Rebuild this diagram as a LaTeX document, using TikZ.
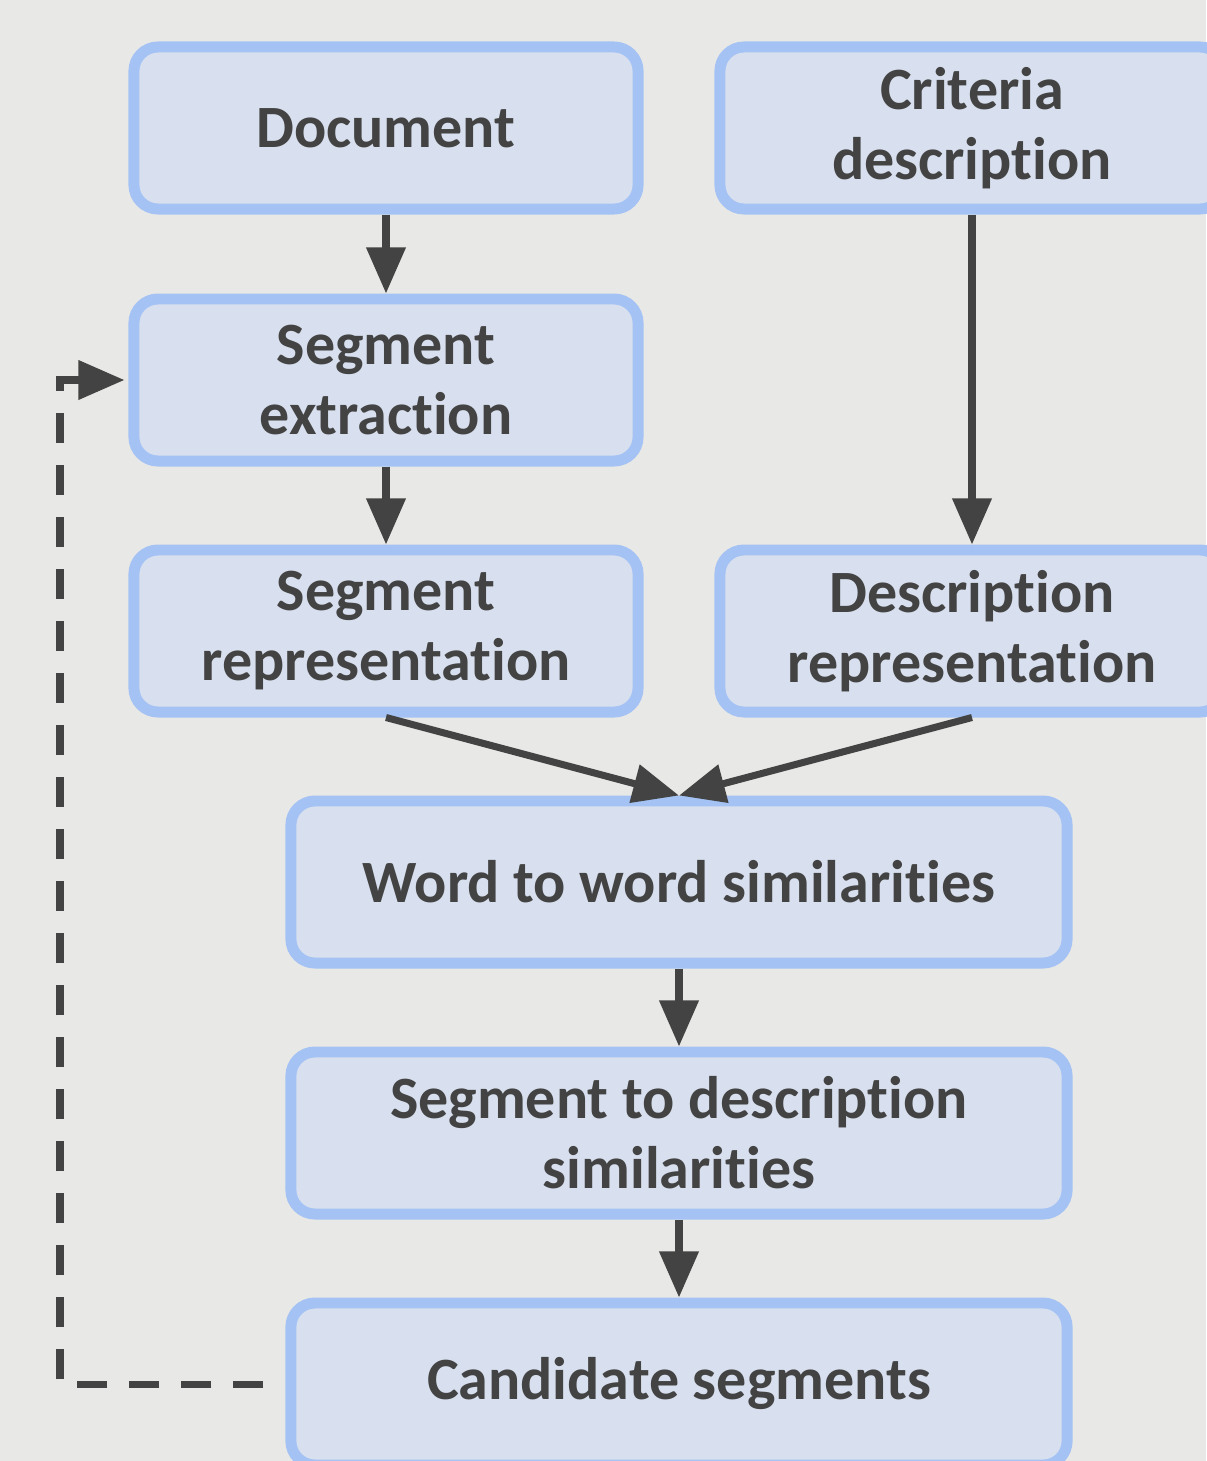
\documentclass[tikz,border=0pt]{standalone}
\usepackage{fontspec}
\setmainfont{Carlito}[Ligatures=NoCommon]
\usetikzlibrary{arrows.meta}

\begin{document}
\begin{tikzpicture}[x=0.025cm,y=-0.025cm]
  \definecolor{bg}{RGB}{232,232,230}
  \definecolor{boxfill}{RGB}{216,224,239}
  \definecolor{boxline}{RGB}{164,194,244}
  \definecolor{ink}{RGB}{67,67,67}
  \tikzset{
    stage/.style={draw=boxline, fill=boxfill, line width=7.8pt, rounded corners=0.6cm,
      minimum width=12.6cm, minimum height=4.05cm, inner sep=0pt, align=center,
      text=ink, font=\fontsize{42.7}{49.8}\selectfont\bfseries},
    wide/.style={stage, minimum width=19.4cm},
    flow/.style={draw=ink, line width=5pt, -{Triangle[length=1.15cm,width=0.95cm]}},
  }
  \fill[bg] (0,0) rectangle (1206,1461);
  \useasboundingbox (0,0) rectangle (1206,1461);
  % stages
  \node[stage] (doc) at (386,128) {Document};
  \node[stage] (crit) at (972,128) {Criteria\\description};
  \node[stage] (segex) at (386,380) {Segment\\extraction};
  \node[stage] (segrep) at (386,631) {Segment\\representation};
  \node[stage] (descrep) at (972,631) {Description\\representation};
  \node[wide] (w2w) at (679,882) {Word to word similarities};
  \node[wide] (s2d) at (679,1133) {Segment to description\\similarities};
  \node[wide] (cand) at (679,1384) {Candidate segments};
  % flow arrows
  \draw[flow] (doc) -- (segex);
  \draw[flow] (segex) -- (segrep);
  \draw[flow] (crit) -- (descrep);
  \draw[flow] (segrep.south) -- (w2w.north);
  \draw[flow] (descrep.south) -- (w2w.north);
  \draw[flow] (w2w) -- (s2d);
  \draw[flow] (s2d) -- (cand);
  % feedback loop
  \draw[flow, dash pattern=on 0.75cm off 0.55cm]
    ([xshift=-0.55cm]cand.west) -- (60,1384) -- (60,380) -- ([xshift=-0.1cm]segex.west);
\end{tikzpicture}
\end{document}
